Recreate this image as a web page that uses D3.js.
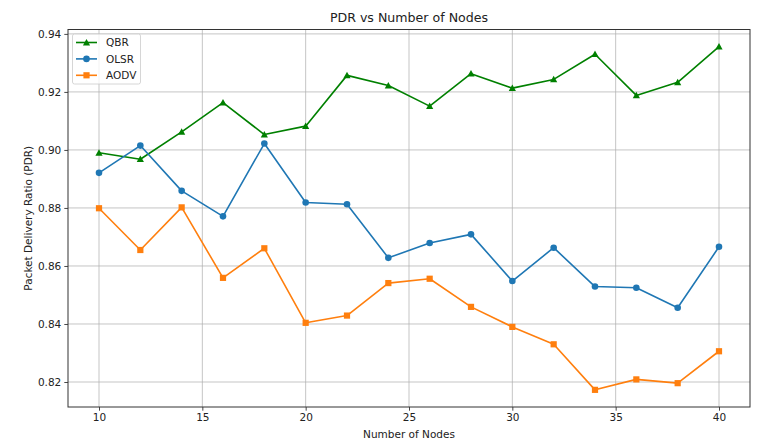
<!DOCTYPE html>
<html><head><meta charset="utf-8">
<script src="https://cdn.jsdelivr.net/npm/d3@7"></script>
<style>body{margin:0;background:#fff;} text{font-family:"DejaVu Sans",sans-serif;fill:#222;}</style>
</head><body>
<svg id="c" width="759" height="448"></svg>
<script>
const nodes = [10,12,14,16,18,20,22,24,26,28,30,32,34,36,38,40];
const qbr  = [0.8990,0.8968,0.9062,0.9163,0.9053,0.9082,0.9257,0.9222,0.9151,0.9263,0.9213,0.9243,0.9330,0.9188,0.9233,0.9356];
const olsr = [0.8921,0.9015,0.8859,0.8771,0.9022,0.8819,0.8813,0.8628,0.8679,0.8709,0.8548,0.8663,0.8529,0.8525,0.8456,0.8666];
const aodv = [0.8799,0.8655,0.8802,0.8559,0.8661,0.8404,0.8429,0.8541,0.8556,0.8459,0.8390,0.8330,0.8173,0.8209,0.8196,0.8306];
const xTicks = [10,15,20,25,30,35,40];
const yTicks = [0.82,0.84,0.86,0.88,0.90,0.92,0.94];
const seriesNames = ["QBR","OLSR","AODV"];
const title = "PDR vs Number of Nodes";
const xLabel = "Number of Nodes";
const yLabel = "Packet Delivery Ratio (PDR)";

const series = [
  {name: seriesNames[0], values: qbr, color: "#008000", marker: "tri"},
  {name: seriesNames[1], values: olsr, color: "#1f77b4", marker: "circ"},
  {name: seriesNames[2], values: aodv, color: "#ff7f0e", marker: "sq"}
];

const L = 68, R = 750, T = 29.5, B = 407;
const allY = qbr.concat(olsr, aodv);
const yMin = d3.min(allY), yMax = d3.max(allY), yPad = (yMax - yMin) * 0.05;
const xMin = d3.min(nodes), xMax = d3.max(nodes), xPad = (xMax - xMin) * 0.05;
const x = d3.scaleLinear().domain([xMin - xPad, xMax + xPad]).range([L, R]);
const y = d3.scaleLinear().domain([yMin - yPad, yMax + yPad]).range([B, T]);

const svg = d3.select("#c");

// grid
const grid = svg.append("g");
grid.selectAll(".gx").data(xTicks).join("line")
  .attr("x1", d => x(d)).attr("x2", d => x(d)).attr("y1", T).attr("y2", B)
  .attr("stroke", "#b0b0b0").attr("stroke-width", 0.9).attr("opacity", 0.8);
grid.selectAll(".gy").data(yTicks).join("line")
  .attr("y1", d => y(d)).attr("y2", d => y(d)).attr("x1", L).attr("x2", R)
  .attr("stroke", "#b0b0b0").attr("stroke-width", 0.9).attr("opacity", 0.8);

// axes
const xAxis = svg.append("g").attr("transform", `translate(0,${B})`)
  .call(d3.axisBottom(x).tickValues(xTicks).tickFormat(d3.format("d")).tickSize(3.7).tickPadding(3));
const yAxis = svg.append("g").attr("transform", `translate(${L},0)`)
  .call(d3.axisLeft(y).tickValues(yTicks).tickFormat(d3.format(".2f")).tickSize(3.7).tickPadding(3));
[xAxis, yAxis].forEach(a => {
  a.select(".domain").remove();
  a.selectAll("line").attr("stroke", "#333").attr("stroke-width", 0.9);
  a.selectAll("text").attr("font-size", 10.5).attr("font-family", "DejaVu Sans").attr("fill", "#222");
});

// frame
svg.append("rect").attr("x", L).attr("y", T).attr("width", R - L).attr("height", B - T)
  .attr("fill", "none").attr("stroke", "#333").attr("stroke-width", 1);

function marker(g, type, color, cx, cy) {
  if (type === "circ") {
    g.append("circle").attr("cx", cx).attr("cy", cy).attr("r", 3.3).attr("fill", color);
  } else if (type === "sq") {
    g.append("rect").attr("x", cx - 3.1).attr("y", cy - 3.1).attr("width", 6.2).attr("height", 6.2).attr("fill", color);
  } else {
    const s = 3.6;
    g.append("path").attr("d", `M${cx},${cy - s}L${cx + s},${cy + s * 0.8}L${cx - s},${cy + s * 0.8}Z`).attr("fill", color);
  }
}

const line = d3.line().x((d, i) => x(nodes[i])).y(d => y(d));
series.forEach(s => {
  const g = svg.append("g");
  g.append("path").attr("d", line(s.values)).attr("fill", "none")
    .attr("stroke", s.color).attr("stroke-width", 1.6).attr("stroke-linejoin", "round");
  s.values.forEach((v, i) => marker(g, s.marker, s.color, x(nodes[i]), y(v)));
});

// legend
const lg = svg.append("g");
lg.append("rect").attr("x", 72.5).attr("y", 34).attr("width", 68).attr("height", 50).attr("rx", 2)
  .attr("fill", "#fff").attr("fill-opacity", 0.8).attr("stroke", "#ccc").attr("stroke-width", 0.8);
series.forEach((s, i) => {
  const ly = 42.5 + i * 16.4;
  lg.append("line").attr("x1", 76).attr("x2", 97).attr("y1", ly).attr("y2", ly)
    .attr("stroke", s.color).attr("stroke-width", 1.6);
  marker(lg, s.marker, s.color, 86.5, ly);
  lg.append("text").attr("x", 106).attr("y", ly).attr("dy", "0.35em")
    .attr("font-size", 10.5).text(s.name);
});

// labels
svg.append("text").attr("x", (L + R) / 2).attr("y", 18).attr("dy", "0.35em")
  .attr("text-anchor", "middle").attr("font-size", 12.6).text(title);
svg.append("text").attr("x", (L + R) / 2).attr("y", 434).attr("dy", "0.35em")
  .attr("text-anchor", "middle").attr("font-size", 10.5).text(xLabel);
svg.append("text").attr("transform", `translate(28,${(T + B) / 2}) rotate(-90)`).attr("dy", "0.35em")
  .attr("text-anchor", "middle").attr("font-size", 10.5).text(yLabel);
</script>
</body></html>
